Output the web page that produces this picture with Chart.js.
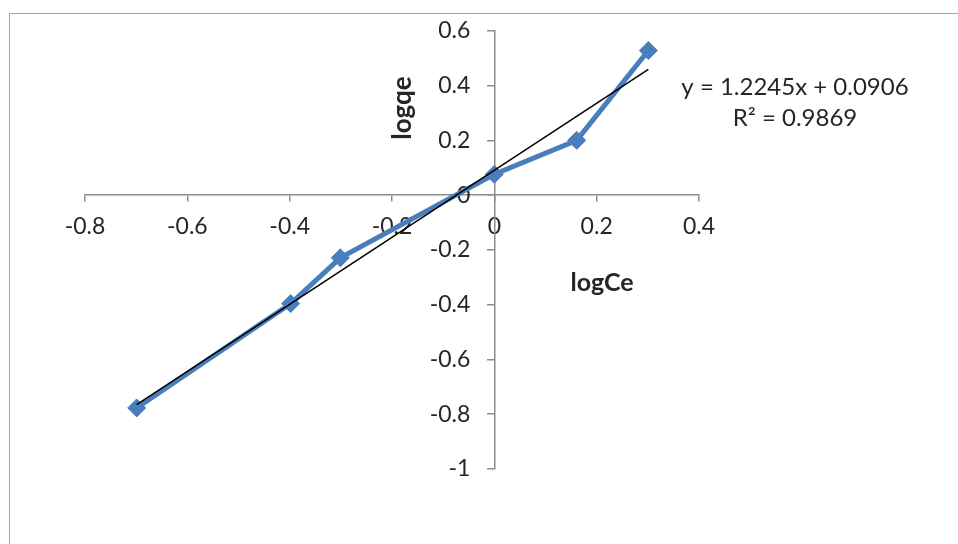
<!DOCTYPE html>
<html><head><meta charset="utf-8">
<script src="https://cdn.jsdelivr.net/npm/chart.js@4/dist/chart.umd.min.js"></script>
<style>
html,body{margin:0;padding:0;background:#fff;overflow:hidden;}
#wrap{position:relative;width:958px;height:544px;}
#frame{position:absolute;left:9px;top:13px;right:-5px;bottom:-5px;border-left:1.5px solid #a6a6a6;border-top:1.5px solid #a6a6a6;}
canvas{position:absolute;left:0;top:0;}
</style></head><body>
<div id="wrap"><div id="frame"></div><canvas id="c" width="958" height="544"></canvas></div>
<script>
// ---- data ----
const logCe = [-0.699, -0.398, -0.301, 0, 0.161, 0.301];
const logqe = [-0.777, -0.396, -0.229, 0.076, 0.2, 0.528];
const xTicks = [-0.8, -0.6, -0.4, -0.2, 0, 0.2, 0.4];
const xTickLabels = ['-0.8', '-0.6', '-0.4', '-0.2', '0', '0.2', '0.4'];
const yTicks = [-1, -0.8, -0.6, -0.4, -0.2, 0, 0.2, 0.4, 0.6];
const yTickLabels = ['-1', '-0.8', '-0.6', '-0.4', '-0.2', '0', '0.2', '0.4', '0.6'];
const trendSlope = 1.2245;
const trendIntercept = 0.0906;
const equationLines = ['y = 1.2245x + 0.0906', 'R\u00B2 = 0.9869'];
const xTitle = 'logCe';
const yTitle = 'logqe';

// ---- scale that keeps tick padding when crossing at a value ----
class CrossLinearScale extends Chart.LinearScale {
  _computeLabelItems(chartArea) {
    const items = super._computeLabelItems(chartArea);
    if (!this.isHorizontal()) {
      const g = this.options.grid;
      const shift = (g.drawTicks ? g.tickLength : 0) + this.options.ticks.padding;
      items.forEach(it => { it.options.translation[0] -= shift; });
    }
    return items;
  }
}
CrossLinearScale.id = 'crossLinear';
CrossLinearScale.defaults = {};
Chart.register(CrossLinearScale);

// ---- build ----
const seriesPoints = logCe.map((x, i) => ({x: x, y: logqe[i]}));
const xMin = Math.min(...logCe), xMax = Math.max(...logCe);
const trendPoints = [xMin, xMax].map(x => ({x: x, y: trendSlope * x + trendIntercept}));

const FONT = 'Lato, "Open Sans", sans-serif';
const TXT = '#262626';
const AXIS = '#8c8c8c';

const textPlugin = {
  id: 'texts',
  afterDraw(chart) {
    const ctx = chart.ctx;
    ctx.save();
    ctx.fillStyle = TXT;
    ctx.textAlign = 'center';
    ctx.textBaseline = 'middle';
    ctx.font = 'bold 25px ' + FONT;
    ctx.fillText(xTitle, 602, 283);
    ctx.save();
    ctx.translate(403, 108);
    ctx.rotate(-Math.PI / 2);
    ctx.font = 'bold 26px ' + FONT;
    ctx.fillText(yTitle, 0, 0);
    ctx.restore();
    ctx.font = '24px ' + FONT;
    ctx.fillText(equationLines[0], 795, 87);
    ctx.fillText(equationLines[1], 795, 118);
    ctx.restore();
  }
};

new Chart(document.getElementById('c'), {
  type: 'scatter',
  data: {
    datasets: [
      {
        label: 'trend',
        data: trendPoints,
        showLine: true,
        borderColor: '#000000',
        borderWidth: 1.5,
        pointRadius: 0,
        fill: false,
        order: 0
      },
      {
        label: 'logqe',
        data: seriesPoints,
        showLine: true,
        borderColor: '#4a7ebb',
        backgroundColor: '#4a7ebb',
        borderWidth: 5,
        pointStyle: 'rectRot',
        pointRadius: 9,
        pointBorderWidth: 1,
        pointBackgroundColor: '#4a7ebb',
        pointBorderColor: '#4a7ebb',
        fill: false,
        order: 1
      }
    ]
  },
  options: {
    responsive: false,
    animation: false,
    events: [],
    layout: {padding: {left: 85, right: 259, top: 29, bottom: 75}},
    plugins: {legend: {display: false}, tooltip: {enabled: false}, title: {display: false}},
    scales: {
      x: {
        type: 'linear',
        min: -0.8, max: 0.4,
        position: {y: 0},
        afterBuildTicks: s => { s.ticks = xTicks.map(v => ({value: v})); },
        ticks: {
          callback: (v, i) => xTickLabels[i],
          font: {family: FONT, size: 23},
          color: TXT,
          padding: 12,
          maxRotation: 0,
          autoSkip: false
        },
        grid: {drawOnChartArea: false, drawTicks: true, tickLength: 6, color: AXIS, lineWidth: 1.5},
        border: {display: true, color: AXIS, width: 1.5}
      },
      y: {
        type: 'crossLinear',
        min: -1, max: 0.6,
        position: {x: 0},
        afterBuildTicks: s => { s.ticks = yTicks.map(v => ({value: v})); },
        ticks: {
          callback: (v, i) => yTickLabels[i],
          font: {family: FONT, size: 23},
          color: TXT,
          padding: 17,
          autoSkip: false
        },
        grid: {drawOnChartArea: false, drawTicks: true, tickLength: 7, color: AXIS, lineWidth: 1.5},
        border: {display: true, color: AXIS, width: 1.5}
      }
    }
  },
  plugins: [textPlugin]
});
</script>
</body></html>
